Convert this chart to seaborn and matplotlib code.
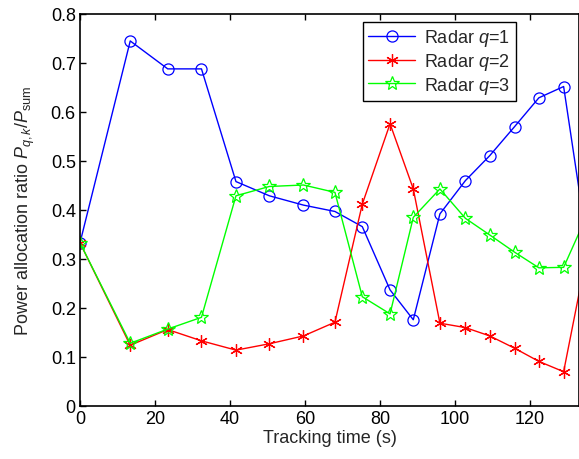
import numpy as np
import pandas as pd
import seaborn as sns
import matplotlib
matplotlib.use("Agg")
import matplotlib.pyplot as plt

# Data
tracking_time = [0, 13.4, 23.4, 32.4, 41.6, 50.5, 59.6, 68.0, 75.3, 82.7, 88.9,
                 96.0, 102.8, 109.3, 115.9, 122.4, 129.0, 135.5]
radar_q1 = [0.333, 0.745, 0.688, 0.688, 0.458, 0.429, 0.410, 0.397, 0.366, 0.237, 0.176,
            0.392, 0.460, 0.511, 0.570, 0.629, 0.652, 0.320]
radar_q2 = [0.333, 0.124, 0.156, 0.133, 0.114, 0.127, 0.143, 0.171, 0.412, 0.576, 0.443,
            0.169, 0.160, 0.143, 0.118, 0.091, 0.070, 0.322]
radar_q3 = [0.333, 0.128, 0.157, 0.181, 0.429, 0.448, 0.451, 0.436, 0.223, 0.188, 0.385,
            0.443, 0.383, 0.349, 0.314, 0.282, 0.283, 0.394]
series_labels = ['Radar $q$=1', 'Radar $q$=2', 'Radar $q$=3']

sns.set_style('ticks')
plt.rcParams['font.family'] = ['Liberation Sans', 'DejaVu Sans']
plt.rcParams['mathtext.fontset'] = 'custom'
plt.rcParams['mathtext.rm'] = 'Liberation Sans'
plt.rcParams['mathtext.it'] = 'Liberation Sans:italic'

fig = plt.figure(figsize=(5.79, 4.60), dpi=100)
ax = fig.add_axes([80 / 579, 1 - 407 / 460, 1 - 80 / 579, (407 - 15) / 460])

# Line styles per series (MATLAB-like)
styles = [
    dict(color='#0000FF', marker='o', markersize=8, mfc='none', mec='#0000FF', mew=0.9),
    dict(color='#FF0000', marker=(6, 2, 0), markersize=9, mec='#FF0000', mew=0.9),
    dict(color='#00FF00', marker='*', markersize=10, mfc='none', mec='#00FF00', mew=0.9),
]
for vals, lab, st in zip([radar_q1, radar_q2, radar_q3], series_labels, styles):
    sns.lineplot(x=tracking_time, y=vals, ax=ax, label=lab, sort=False,
                 linewidth=1.0, **st)

ax.set_xlim(0, 133.1)
ax.set_ylim(0, 0.8)
ax.set_xticks([0, 20, 40, 60, 80, 100, 120])
ax.set_yticks(np.arange(0, 0.81, 0.1))
ax.set_yticklabels(['0', '0.1', '0.2', '0.3', '0.4', '0.5', '0.6', '0.7', '0.8'])
ax.tick_params(direction='in', length=4, width=1, labelsize=13, top=True,
               colors='black', pad=3)
for s in ['left', 'bottom', 'top', 'right']:
    ax.spines[s].set_linewidth(1.2)
    ax.spines[s].set_color('black')

ax.set_xlabel('Tracking time (s)', fontsize=13, labelpad=1)
ax.set_ylabel(r'Power allocation ratio $P_{q,k}/P_{\rm sum}$', fontsize=13, labelpad=10)

leg = ax.legend(loc='upper left', bbox_to_anchor=(0.567, 0.98), borderaxespad=0,
                fontsize=13, frameon=True, fancybox=False, framealpha=1,
                edgecolor='black', handlelength=2.6, labelspacing=0.15,
                borderpad=0.3, handletextpad=0.5)
leg.get_frame().set_linewidth(1.0)

fig.savefig('out.png', dpi=100)
